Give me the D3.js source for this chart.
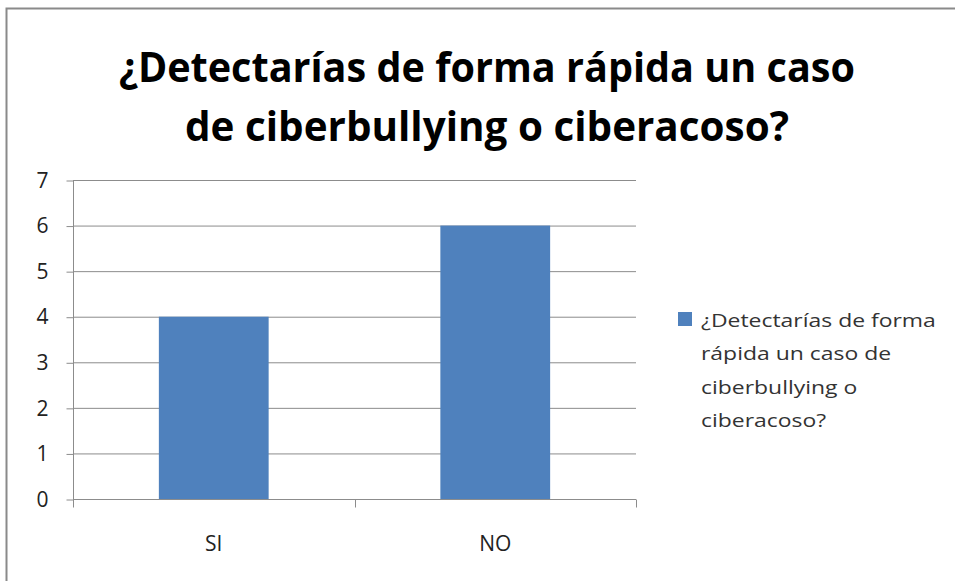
<!DOCTYPE html>
<html>
<head>
<meta charset="utf-8">
<script src="https://cdn.jsdelivr.net/npm/d3@7"></script>
<style>
  body { margin: 0; background: #fff; }
  svg { display: block; }
  text { font-family: "Open Sans", "Noto Sans", sans-serif; }
</style>
</head>
<body>
<div id="chart"></div>
<script>
var categories = ['SI', 'NO'];
var values = [4, 6];
var yTicks = [0, 1, 2, 3, 4, 5, 6, 7];
var titleLines = ['¿Detectarías de forma rápida un caso', 'de  ciberbullying o ciberacoso?'];
var legendLines = ['¿Detectarías de forma', 'rápida un caso de', 'ciberbullying o', 'ciberacoso?'];

var _width = 955, _height = 581,
    _left = 73, _right = 636, _top = 180, _bottom = 499,
    _barColor = '#4f81bd', _gridColor = '#8c8c8c';

var svg = d3.select('#chart').append('svg')
    .attr('width', _width)
    .attr('height', _height);

// outer chart frame (cropped at right and bottom)
svg.append('path')
    .attr('d', 'M6.5,' + (_height + 2) + 'V8.5H' + (_width + 2))
    .attr('fill', 'none')
    .attr('stroke', '#8a8a8a')
    .attr('stroke-width', 2);

// title
svg.append('g').selectAll('text')
    .data(titleLines)
    .enter().append('text')
      .attr('x', 487)
      .attr('y', function(d, i) { return 82 + i * 59; })
      .attr('text-anchor', 'middle')
      .attr('font-size', 41)
      .attr('font-weight', 'bold')
      .attr('fill', '#000')
      .attr('textLength', function(d, i) { return i === 0 ? 736 : 604; })
      .attr('lengthAdjust', 'spacingAndGlyphs')
      .text(function(d) { return d; });

var x = d3.scaleBand()
    .domain(categories)
    .range([_left, _right])
    .paddingInner(0.61)
    .paddingOuter(0.305);

var y = d3.scaleLinear()
    .domain([0, 7])
    .range([_bottom, _top]);

// horizontal gridlines
svg.append('g')
    .attr('class', 'grid')
  .selectAll('line')
  .data(yTicks.slice(1))
  .enter().append('line')
    .attr('x1', _left)
    .attr('x2', _right)
    .attr('y1', function(d) { return y(d) + 0.5; })
    .attr('y2', function(d) { return y(d) + 0.5; })
    .attr('stroke', _gridColor)
    .attr('stroke-width', 1);

// bars
svg.append('g')
    .attr('class', 'bars')
  .selectAll('rect')
  .data(values)
  .enter().append('rect')
    .attr('x', function(d, i) { return x(categories[i]); })
    .attr('y', function(d) { return y(d); })
    .attr('width', x.bandwidth())
    .attr('height', function(d) { return y(0) - y(d); })
    .attr('fill', _barColor);

// y axis
var yAxis = svg.append('g')
    .attr('transform', 'translate(' + (_left + 0.5) + ',0.5)')
    .call(d3.axisLeft(y).tickValues(yTicks).tickFormat(d3.format('d')).tickSize(7).tickPadding(18));
yAxis.select('.domain').attr('stroke', _gridColor).attr('d', 'M0,' + _top + 'V' + (_bottom + 6));
yAxis.selectAll('.tick line').attr('stroke', _gridColor);
yAxis.selectAll('.tick text')
    .attr('font-size', 21)
    .attr('fill', '#222')
    .attr('font-family', '"Open Sans", sans-serif');

// x axis
var xAxis = svg.append('g')
    .attr('transform', 'translate(0,' + (_bottom + 0.5) + ')');
xAxis.append('line')
    .attr('x1', _left)
    .attr('x2', _right)
    .attr('stroke', _gridColor);
xAxis.selectAll('.xtick')
  .data([_left, (_left + _right) / 2, _right])
  .enter().append('line')
    .attr('x1', function(d) { return Math.round(d) + 0.5; })
    .attr('x2', function(d) { return Math.round(d) + 0.5; })
    .attr('y1', 0)
    .attr('y2', 8)
    .attr('stroke', _gridColor);
xAxis.selectAll('text')
  .data(categories)
  .enter().append('text')
    .attr('x', function(d) { return x(d) + x.bandwidth() / 2; })
    .attr('y', 51)
    .attr('text-anchor', 'middle')
    .attr('font-size', 21)
    .attr('fill', '#222')
    .text(function(d) { return d; });

// legend
var legend = svg.append('g');
legend.append('rect')
    .attr('x', 678)
    .attr('y', 312)
    .attr('width', 14)
    .attr('height', 14)
    .attr('fill', _barColor);
legend.append('g')
    .attr('transform', 'translate(701,0) scale(1.24,1)')
  .selectAll('text')
  .data(legendLines)
  .enter().append('text')
    .attr('x', 0)
    .attr('y', function(d, i) { return 327 + i * 33.5; })
    .attr('font-size', 18.5)
    .attr('fill', '#333')
    .text(function(d) { return d; });
</script>
</body>
</html>
